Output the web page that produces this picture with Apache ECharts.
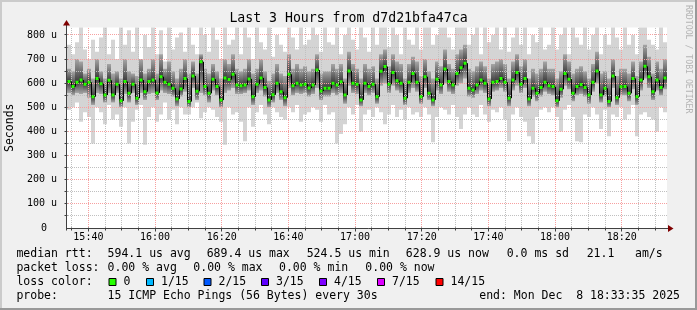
<!DOCTYPE html>
<html><head><meta charset="utf-8">
<script src="https://cdn.jsdelivr.net/npm/echarts@6/dist/echarts.min.js"></script>
<style>html,body{margin:0;padding:0;background:#f0f0f0}#c{width:697px;height:310px}</style>
</head><body><div id="c"></div>
<script>
// ---------- data ----------
const chartTitle = 'Last 3 Hours from d7d21bfa47ca';
const startTime = '15:33:35';
const stepSeconds = 72;
const xTickLabels = ['15:40','16:00','16:20','16:40','17:00','17:20','17:40','18:00','18:20'];
const yTickValues = [0,100,200,300,400,500,600,700,800];

// median rtt (microseconds), one value per step
const med = [
607,586,604,613,596,604,544,620,598,551,612,551,596,527,607,558,596,538,613,565,607,613,560,627,604,596,579,535,576,620,
524,630,567,689,586,558,617,586,530,622,615,637,593,590,593,618,544,596,622,582,531,552,600,565,540,637,590,600,593,596,
580,593,655,568,579,579,600,593,606,551,651,600,596,531,600,586,596,544,650,669,596,645,610,600,538,604,640,604,544,627,
558,531,617,593,659,607,593,640,664,683,579,572,593,613,600,535,604,607,620,604,538,613,645,596,620,535,579,558,582,604,
590,586,527,575,640,617,558,586,595,582,551,604,651,551,579,524,630,540,585,586,558,620,544,613,670,627,565,613,582,622];
// smoke: lowest / highest ping
const lo = [
490,500,520,440,480,460,350,500,480,430,510,450,470,420,500,350,440,490,510,345,460,500,440,470,520,450,490,430,500,470,
470,500,520,455,480,500,490,460,440,345,500,470,480,440,360,500,420,480,510,470,430,500,480,460,450,500,480,510,440,470,
480,500,490,440,510,470,480,350,390,430,500,470,510,400,470,490,460,500,480,430,470,510,460,490,450,500,470,480,460,500,
470,355,460,500,490,470,510,460,410,470,500,470,460,510,470,440,490,480,500,450,360,470,500,460,440,380,350,460,490,500,
480,500,460,400,490,510,460,360,355,470,460,500,470,410,490,380,470,460,500,450,470,510,380,470,480,460,450,400,500,480];
const hi = [
760,720,770,840,740,700,780,730,790,840,720,780,700,840,760,820,730,840,700,800,750,840,720,820,690,840,740,790,810,730,
840,760,720,840,800,730,840,780,700,840,760,780,840,720,840,790,700,840,770,740,840,710,800,760,730,840,790,740,840,760,
780,840,800,730,840,770,760,840,720,800,840,780,740,840,790,730,840,760,840,840,750,840,800,720,840,780,760,840,740,840,
840,760,800,840,840,790,740,840,840,840,760,800,840,720,840,770,800,840,740,840,730,790,840,760,840,720,800,770,840,740,
760,840,740,800,840,720,840,790,760,840,740,800,840,720,800,760,840,790,740,840,760,800,720,840,840,780,760,740,840,770];
// smoke: inner pings (lower / upper)
const l2 = [
560,550,560,555,560,540,510,560,555,520,560,520,560,500,555,520,560,510,560,530,555,560,530,570,560,555,545,505,545,565,
500,580,530,560,550,520,570,550,500,560,570,580,555,555,560,570,510,560,570,545,500,520,560,530,505,580,550,560,555,560,
545,555,580,530,545,545,560,550,560,515,590,560,555,505,560,550,560,515,590,600,560,590,570,560,510,560,580,565,515,580,
530,505,570,555,600,565,555,590,600,620,545,540,555,570,560,505,565,570,580,565,505,570,590,560,580,505,545,525,545,565,
555,550,500,540,590,575,525,550,555,545,515,565,600,520,545,500,580,510,550,550,525,575,510,570,620,580,530,570,550,575];
const h2 = [
660,650,700,690,640,660,620,700,650,620,680,640,650,620,700,650,640,630,700,640,660,700,640,720,660,690,650,620,660,700,
640,690,640,720,660,640,680,650,620,700,680,720,660,650,660,700,640,660,700,650,610,640,680,640,630,720,660,680,660,670,
650,660,720,640,650,650,680,660,680,620,730,680,660,620,680,660,670,620,720,740,670,720,690,680,620,680,710,690,630,700,
650,620,690,670,740,680,660,720,740,760,660,650,670,690,670,620,680,690,700,680,620,690,720,670,700,620,660,640,660,690,
660,660,620,650,720,690,640,660,670,650,620,680,730,640,650,620,700,630,660,660,640,690,630,690,760,710,640,690,660,700];

const statLines = [
  ['median rtt:', '594.1 us avg', '689.4 us max', '524.5 us min', '628.9 us now', '0.0 ms sd', '21.1', 'am/s'],
  ['packet loss:', '0.00 % avg', '0.00 % max', '0.00 % min', '0.00 % now']
];
const lossLabels = ['0','1/15','2/15','3/15','4/15','7/15','14/15'];
const lossColors = ['#26ff00','#00b8ff','#0059ff','#5e00ff','#7e00ff','#dd00ff','#ff0000'];
const probeText = '15 ICMP Echo Pings (56 Bytes) every 30s';
const endText = 'end: Mon Dec  8 18:33:35 2025';

// ---------- build ----------
const toSec = s => { const p = s.split(':').map(Number); return p[0]*3600 + p[1]*60 + (p[2]||0); };
const t0 = toSec(startTime);
const tEnd = t0 + med.length * stepSeconds;
const fmtHM = v => { const h = Math.floor(v/3600), m = Math.floor((v%3600)/60); return String(h).padStart(2,'0')+':'+String(m).padStart(2,'0'); };

const smokeData = med.map((m, i) => [t0 + i*stepSeconds, t0 + (i+1)*stepSeconds, lo[i], l2[i], m, h2[i], hi[i], i ? med[i-1] : m]);

const MONO = '"DejaVu Sans Mono", monospace';
const f = s => s + 'px ' + MONO;
const YMAX = 831;
const MAJOR = '#f7a0a0', MINOR = '#c0c0c0';

const majorX = xTickLabels.map(toSec);
const minorX = [];
for (let t = Math.ceil(t0/300)*300; t < tEnd; t += 300) if (majorX.indexOf(t) < 0) minorX.push(t);
const majorY = yTickValues.filter(v => v > 0);
const minorY = [];
for (let v = 50; v < YMAX; v += 100) minorY.push(v);

// dotted patterns (1 px on, 1 px off)
function dotPattern(color, vertical) {
  const c = document.createElement('canvas');
  c.width = vertical ? 1 : 2; c.height = vertical ? 2 : 1;
  const ctx = c.getContext('2d'); ctx.fillStyle = color; ctx.fillRect(0, 0, 1, 1);
  return {image: c, repeat: 'repeat'};
}
const patMajV = dotPattern(MAJOR, true), patMajH = dotPattern(MAJOR, false);
const patMinV = dotPattern(MINOR, true), patMinH = dotPattern(MINOR, false);

const chart = echarts.init(document.getElementById('c'), null, {renderer: 'canvas'});

function smokeItem(params, api) {
  const x0 = api.coord([api.value(0), 0])[0], x1 = api.coord([api.value(1), 0])[0];
  const y = v => api.coord([api.value(0), v])[1];
  const yLo = y(api.value(2)), yL2 = y(api.value(3)), yMed = y(api.value(4)), yH2 = y(api.value(5)), yHi = y(api.value(6));
  const off = Math.min(0.95, Math.max(0.05, (yMed - yH2) / (yL2 - yH2)));
  return {type: 'group', children: [
    {type: 'rect', shape: {x: x0, y: yHi, width: x1 - x0, height: yLo - yHi}, style: {fill: '#d4d4d4'}},
    {type: 'rect', shape: {x: x0, y: yH2, width: x1 - x0, height: yL2 - yH2},
     style: {fill: new echarts.graphic.LinearGradient(0, 0, 0, 1, [
       {offset: 0, color: '#a6a6a6'}, {offset: off, color: '#3a3a3a'}, {offset: 1, color: '#a6a6a6'}])}}
  ]};
}

function medianItem(params, api) {
  const x0 = api.coord([api.value(0), 0])[0], x1 = api.coord([api.value(1), 0])[0];
  const yMed = api.coord([api.value(0), api.value(4)])[1];
  const yPrev = api.coord([api.value(0), api.value(7)])[1];
  return {type: 'group', children: [
    {type: 'line', shape: {x1: x0 + 0.5, y1: yPrev, x2: x0 + 0.5, y2: yMed}, style: {stroke: '#000', lineWidth: 1}},
    {type: 'line', shape: {x1: x0, y1: yMed, x2: x1, y2: yMed}, style: {stroke: '#000', lineWidth: 1}},
    {type: 'rect', shape: {x: x0 + 0.5, y: yMed - 1.5, width: x1 - x0 - 1, height: 3}, style: {fill: lossColors[0]}}
  ]};
}

function gridItem(params, api) {
  const p0 = api.coord([t0, 0]), p1 = api.coord([tEnd, YMAX]);
  const yTop = Math.ceil(p1[1]), yBot = Math.round(p0[1]), xL = Math.round(p0[0]), xR = Math.round(p1[0]);
  const ch = [];
  const vline = (t, pat) => ch.push({type: 'rect', shape: {x: Math.floor(api.coord([t, 0])[0]), y: yTop, width: 1, height: yBot - yTop}, style: {fill: pat}});
  const hline = (v, pat) => ch.push({type: 'rect', shape: {x: xL, y: Math.floor(api.coord([t0, v])[1]), width: xR - xL, height: 1}, style: {fill: pat}});
  minorX.forEach(t => vline(t, patMinV));
  minorY.forEach(v => hline(v, patMinH));
  majorX.forEach(t => vline(t, patMajV));
  majorY.forEach(v => hline(v, patMajH));
  return {type: 'group', children: ch};
}

function axesItem(params, api) {
  const o = api.coord([t0, 0]), e = api.coord([tEnd, YMAX]);
  const ox = Math.floor(o[0]) - 0.5, oy = Math.round(o[1]) + 0.5;
  const ax = '#404040', ar = '#7f0000';
  const ch = [
    {type: 'line', shape: {x1: ox, y1: oy, x2: e[0] + 4, y2: oy}, style: {stroke: ax, lineWidth: 1}},
    {type: 'line', shape: {x1: ox, y1: oy + 2, x2: ox, y2: e[1] - 4}, style: {stroke: ax, lineWidth: 1}},
    {type: 'polygon', shape: {points: [[e[0] + 1, oy - 3.5], [e[0] + 6.5, oy], [e[0] + 1, oy + 3.5]]}, style: {fill: ar}},
    {type: 'polygon', shape: {points: [[ox - 3.5, e[1] - 2], [ox, e[1] - 7.5], [ox + 3.5, e[1] - 2]]}, style: {fill: ar}}
  ];
  minorX.concat(majorX).forEach(t => {
    const x = Math.floor(api.coord([t, 0])[0]) + 0.5;
    const major = majorX.indexOf(t) >= 0;
    ch.push({type: 'line', shape: {x1: x, y1: oy - 1, x2: x, y2: oy + (major ? 3 : 2)}, style: {stroke: ax, lineWidth: 1}});
  });
  minorY.concat(majorY).forEach(v => {
    const yy = Math.floor(api.coord([t0, v])[1]) + 0.5;
    ch.push({type: 'line', shape: {x1: ox - 2, y1: yy, x2: ox + 1, y2: yy}, style: {stroke: ax, lineWidth: 1}});
  });
  return {type: 'group', children: ch};
}

// legend / text graphics
const g = [];
g.push({type: 'rect', shape: {x: 0, y: 0, width: 697, height: 2}, style: {fill: '#cbcbcb'}});
g.push({type: 'rect', shape: {x: 0, y: 0, width: 2, height: 310}, style: {fill: '#cbcbcb'}});
g.push({type: 'rect', shape: {x: 695, y: 0, width: 2, height: 310}, style: {fill: '#999999'}});
g.push({type: 'rect', shape: {x: 0, y: 308, width: 697, height: 2}, style: {fill: '#999999'}});
const txt = (text, x, y, size, opts) => Object.assign({type: 'text', x: x, y: y, silent: true,
  style: Object.assign({text: text, font: f(size), fill: '#000', align: 'left', verticalAlign: 'middle'}, (opts && opts.style) || {})},
  (opts && opts.el) || {});
g.push(txt(chartTitle, 348.5, 19, 13.2, {style: {align: 'center'}}));
g.push(txt('Seconds', 10, 127.75, 11.5, {style: {align: 'center'}, el: {rotation: Math.PI/2}}));
g.push(txt('RRDTOOL / TOBI OETIKER', 688, 5, 8.2, {style: {fill: '#b4b4b4'}, el: {rotation: -Math.PI/2}}));
const row1X = [16.4, 107.6, 206.7, 306.7, 405.8, 506.7, 586.7, 635];
statLines[0].forEach((s, i) => g.push(txt(s, row1X[i], 254, 11.5)));
const row2X = [16.4, 107.6, 193.3, 279, 365.3];
statLines[1].forEach((s, i) => g.push(txt(s, row2X[i], 268, 11.5)));
g.push(txt('loss color:', 16.4, 282, 11.5));
const boxX = [108.5, 146, 203.5, 261, 319, 377, 435.5];
lossLabels.forEach((s, i) => {
  g.push({type: 'rect', shape: {x: boxX[i] + 0.5, y: 278.5, width: 7, height: 7}, style: {fill: lossColors[i], stroke: '#000', lineWidth: 1}});
  g.push(txt(s, boxX[i] + 15, 282, 11.5));
});
g.push(txt('probe:', 16.4, 296, 11.5));
g.push(txt(probeText, 107.6, 296, 11.5));
g.push(txt(endText, 680, 296, 11.5, {style: {align: 'right'}}));

chart.setOption({
  backgroundColor: '#f0f0f0',
  animation: false,
  grid: {left: 67, right: 30, top: 27.5, bottom: 82, show: true, backgroundColor: '#ffffff', borderWidth: 0},
  xAxis: {type: 'value', min: t0, max: tEnd,
    axisLine: {show: false}, axisTick: {show: false}, splitLine: {show: false},
    axisLabel: {customValues: majorX, formatter: fmtHM, margin: 4, color: '#000', fontFamily: MONO, fontSize: 10}},
  yAxis: {type: 'value', min: 0, max: YMAX, interval: 100,
    axisLine: {show: false}, axisTick: {show: false}, splitLine: {show: false},
    axisLabel: {showMaxLabel: false, margin: 10, color: '#000', fontFamily: MONO, fontSize: 10,
      formatter: v => v === 0 ? '{z|0}' : v + ' u',
      rich: {z: {padding: [0, 10, 0, 0], fontFamily: MONO, fontSize: 10, color: '#000'}}}},
  graphic: g,
  series: [
    {type: 'custom', name: 'smoke', renderItem: smokeItem, data: smokeData, clip: true, z: 1,
     encode: {x: [0, 1], y: [2, 6]}, silent: true},
    {type: 'custom', name: 'grid', renderItem: gridItem, data: [[t0, 0]], z: 2, silent: true},
    {type: 'custom', name: 'median', renderItem: medianItem, data: smokeData, clip: true, z: 3,
     encode: {x: [0, 1], y: 4}, silent: true},
    {type: 'custom', name: 'axes', renderItem: axesItem, data: [[t0, 0]], z: 4, silent: true}
  ]
});
</script></body></html>
